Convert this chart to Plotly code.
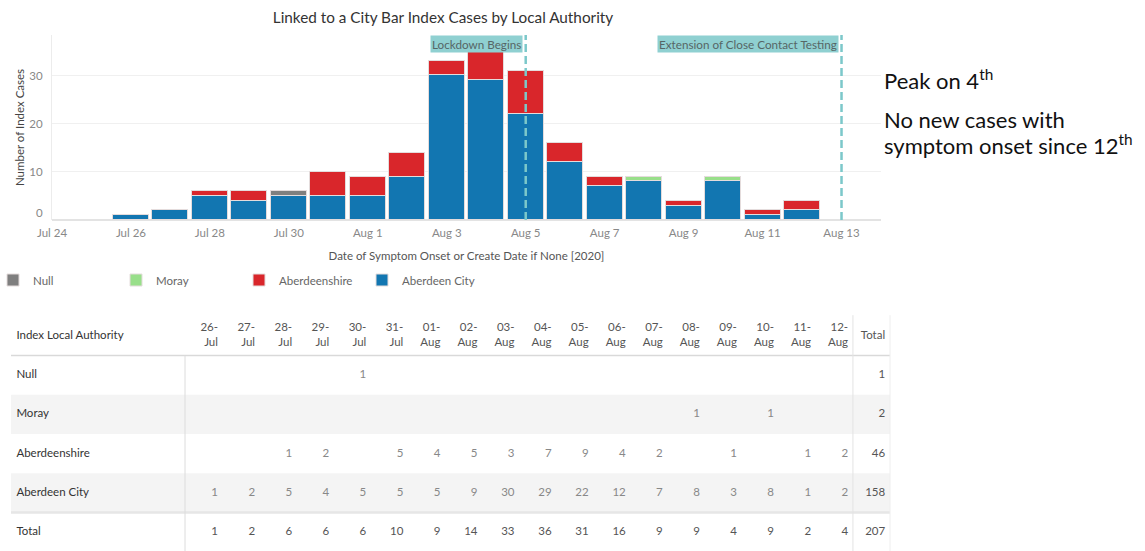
import plotly.graph_objects as go
from datetime import datetime

# ---------------- data ----------------
dates = ["2020-07-26", "2020-07-27", "2020-07-28", "2020-07-29", "2020-07-30", "2020-07-31",
         "2020-08-01", "2020-08-02", "2020-08-03", "2020-08-04", "2020-08-05", "2020-08-06",
         "2020-08-07", "2020-08-08", "2020-08-09", "2020-08-10", "2020-08-11", "2020-08-12"]
aberdeen_city = [1, 2, 5, 4, 5, 5, 5, 9, 30, 29, 22, 12, 7, 8, 3, 8, 1, 2]
aberdeenshire = [0, 0, 1, 2, 0, 5, 4, 5, 3, 7, 9, 4, 2, 0, 1, 0, 1, 2]
moray = [0, 0, 0, 0, 0, 0, 0, 0, 0, 0, 0, 0, 0, 1, 0, 1, 0, 0]
null = [0, 0, 0, 0, 1, 0, 0, 0, 0, 0, 0, 0, 0, 0, 0, 0, 0, 0]
series_names = ["Aberdeen City", "Aberdeenshire", "Moray", "Null"]
series_values = [aberdeen_city, aberdeenshire, moray, null]
series_colors = ["#1276b1", "#d9262b", "#98df8a", "#7f7f7f"]
events = [("2020-08-05", "Lockdown Begins"), ("2020-08-13", "Extension of Close Contact Testing")]
table_row_order = ["Null", "Moray", "Aberdeenshire", "Aberdeen City"]

FONT = "Lato"
W, H = 1145, 551

fig = go.Figure()

# ---------------- stacked bars ----------------
for name, vals, col in zip(series_names, series_values, series_colors):
    fig.add_trace(go.Bar(
        x=dates, y=[v if v else None for v in vals], name=name,
        marker=dict(color=col, line=dict(color="#e4dcdc", width=1)),
        width=0.91 * 86400000, xaxis="x", yaxis="y",
    ))

# event lines + labels
for d, label in events:
    fig.add_shape(type="line", xref="x", yref="y domain", x0=d, x1=d, y0=0, y1=1,
                  line=dict(color="#7cc8ca", width=2.5, dash="8px,4px"), layer="above")
    fig.add_annotation(x=d, xref="x", y=1, yref="y domain", text=label, showarrow=False,
                       xanchor="right", yanchor="top", xshift=-3, bgcolor="#8fd0d1",
                       font=dict(family=FONT, size=11.7, color="#566666"), borderpad=1)

# "0" tick label sits a little above the baseline, as in the reference
fig.add_annotation(x=0, xref="paper", y=0, yref="y", text="0", showarrow=False,
                   xanchor="right", yanchor="middle", yshift=8, xshift=45,
                   font=dict(family=FONT, size=11.5, color="#888888"))

# ---------------- table ----------------
vals_by_name = dict(zip(series_names, series_values))
col_idx = list(range(len(dates)))
total_idx = len(dates)
label_x = -5.44
text_dark = "#333333"
text_num = "#888888"

hdr = [datetime.strptime(d, "%Y-%m-%d").strftime("%d-<br>%b") for d in dates]
fig.add_trace(go.Scatter(x=col_idx + [total_idx], y=[0] * (len(dates) + 1), mode="text",
                         text=hdr + ["Total"], textposition="middle left",
                         textfont=dict(family=FONT, size=11.5, color="#555555"),
                         xaxis="x2", yaxis="y2", showlegend=False, hoverinfo="skip"))
row_labels = ["Index Local Authority"] + table_row_order + ["Total"]
fig.add_trace(go.Scatter(x=[label_x] * len(row_labels), y=list(range(len(row_labels))), mode="text",
                         text=row_labels, textposition="middle right",
                         textfont=dict(family=FONT, size=11.5, color=text_dark),
                         xaxis="x2", yaxis="y2", showlegend=False, hoverinfo="skip"))
for r, name in enumerate(table_row_order, start=1):
    v = vals_by_name[name]
    xs = [i for i in col_idx if v[i]] + [total_idx]
    ts = [str(v[i]) for i in col_idx if v[i]] + [str(sum(v))]
    cols = [text_num] * (len(xs) - 1) + ["#555555"]
    fig.add_trace(go.Scatter(x=xs, y=[r] * len(xs), mode="text", text=ts,
                             textposition="middle left",
                             textfont=dict(family=FONT, size=11.5, color=cols),
                             xaxis="x2", yaxis="y2", showlegend=False, hoverinfo="skip"))
totals = [sum(s[i] for s in series_values) for i in col_idx]
fig.add_trace(go.Scatter(x=col_idx + [total_idx], y=[5] * (len(dates) + 1), mode="text",
                         text=[str(t) for t in totals] + [str(sum(totals))],
                         textposition="middle left",
                         textfont=dict(family=FONT, size=11.5, color="#555555"),
                         xaxis="x2", yaxis="y2", showlegend=False, hoverinfo="skip"))

tl, tr = -5.585, 18.13
for r in (2, 4):
    fig.add_shape(type="rect", xref="x2", yref="y2", x0=tl, x1=tr, y0=r - 0.5, y1=r + 0.5,
                  fillcolor="#f4f4f4", line=dict(width=0), layer="below")
fig.add_shape(type="line", xref="x2", yref="y2", x0=tl, x1=tr, y0=0.5, y1=0.5,
              line=dict(color="#d9d9d9", width=1.5))
fig.add_shape(type="line", xref="x2", yref="y2", x0=tl, x1=tr, y0=4.5, y1=4.5,
              line=dict(color="#e6e6e6", width=2.5))
fig.add_shape(type="line", xref="x2", yref="y2", x0=-0.89, x1=-0.89, y0=0.5, y1=5.48,
              line=dict(color="#dcdcdc", width=1))
fig.add_shape(type="line", xref="x2", yref="y2", x0=17.13, x1=17.13, y0=-0.53, y1=5.48,
              line=dict(color="#e3e3e3", width=1))
fig.add_shape(type="line", xref="x2", yref="y2", x0=tr, x1=tr, y0=-0.53, y1=5.48,
              line=dict(color="#eeeeee", width=1))

# right-hand commentary
for txt, py in [("Peak on 4<sup>th</sup>", 80), ("No new cases with", 119),
                ("symptom onset since 12<sup>th</sup>", 144)]:
    fig.add_annotation(xref="paper", yref="paper", x=882 / W, y=(H - py) / H, xanchor="left",
                       yanchor="middle", showarrow=False, align="left", text=txt,
                       font=dict(family=FONT, size=22, color="#111111"))

fig.update_layout(
    width=W, height=H, margin=dict(l=0, r=0, t=0, b=0, autoexpand=False),
    paper_bgcolor="white", plot_bgcolor="white",
    barmode="stack", bargap=0,
    font=dict(family=FONT, size=11, color="#555555"),
    title=dict(text="Linked to a City Bar Index Cases by Local Authority", x=443 / W, xanchor="center",
               y=(H - 18) / H, yanchor="middle", font=dict(family=FONT, size=15.3, color="#333333")),
    xaxis=dict(domain=[52 / W, 881 / W], type="date", range=["2020-07-24", "2020-08-14"],
               tick0="2020-07-24", dtick=2 * 86400000, tickformat="%b %-d", automargin=False,
               showgrid=False, zeroline=False, showline=False, ticks="", ticklabelstandoff=4,
               tickfont=dict(family=FONT, size=11.5, color="#888888"),
               title=dict(text="Date of Symptom Onset or Create Date if None [2020]", standoff=14,
                          font=dict(family=FONT, size=11.5, color="#555555"))),
    yaxis=dict(domain=[(H - 220) / H, (H - 35) / H], range=[0, 38.4], automargin=False,
               tickvals=[10, 20, 30], showgrid=True, gridcolor="#f0f0f0",
               zeroline=True, zerolinecolor="#e3e3e3", showline=True, linecolor="#ececec",
               ticks="", ticklabelstandoff=6, tickfont=dict(family=FONT, size=11.5, color="#888888"),
               title=dict(text="Number of Index Cases", standoff=2,
                          font=dict(family=FONT, size=11.5, color="#444444"))),
    xaxis2=dict(domain=[0, 1], range=[-5.882, 25.01], visible=False, fixedrange=True),
    yaxis2=dict(domain=[0, (H - 310) / H], range=[5.478, -0.662], visible=False, fixedrange=True),
    legend=dict(orientation="h", traceorder="reversed", xref="paper", yref="paper",
                x=-7 / W, xanchor="left", y=(H - 280) / H, yanchor="middle",
                entrywidth=78, entrywidthmode="pixels",
                font=dict(family=FONT, size=11.5, color="#666666"), bgcolor="rgba(0,0,0,0)"),
)

fig.write_html("out.html", config={"displayModeBar": False},
               post_script="document.body.style.margin='0px';")
